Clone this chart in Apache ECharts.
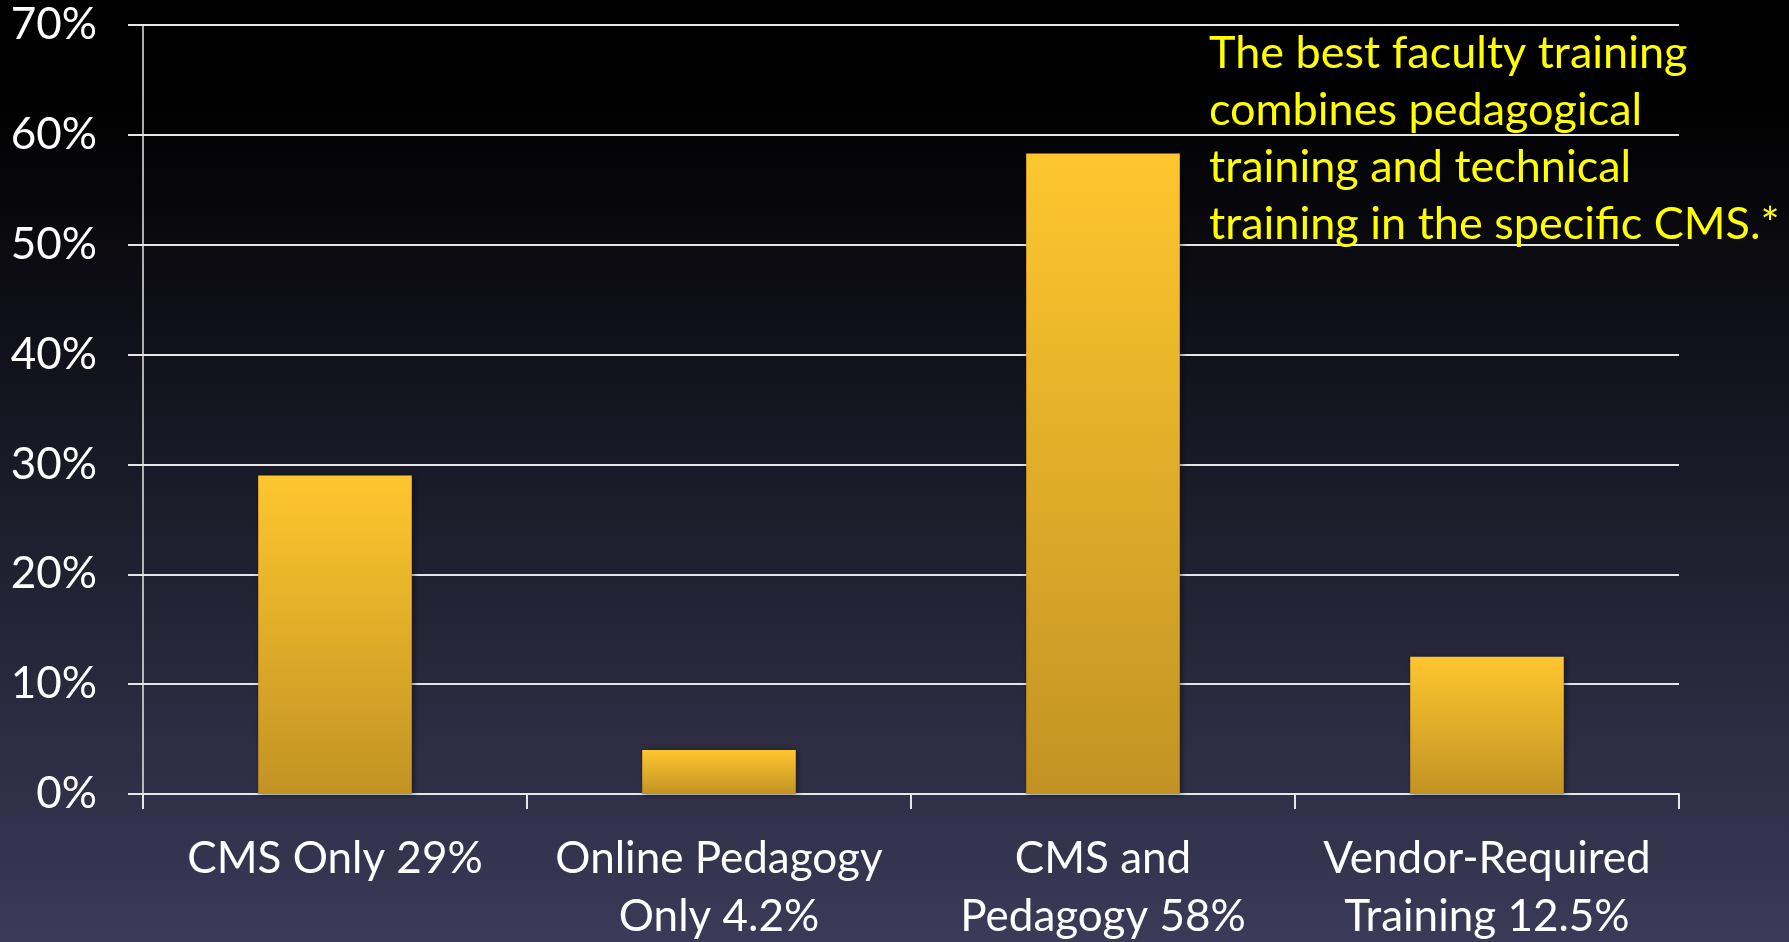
<!DOCTYPE html>
<html>
<head>
<meta charset="utf-8">
<script src="https://cdn.jsdelivr.net/npm/echarts@6/dist/echarts.min.js"></script>
<style>
html,body{margin:0;padding:0;background:#000;}
#chart{width:1789px;height:942px;}
</style>
</head>
<body>
<div id="chart"></div>
<script>
var categories = ['CMS Only 29%', 'Online Pedagogy\nOnly 4.2%', 'CMS and\nPedagogy 58%', 'Vendor-Required\nTraining 12.5%'];
var values = [29, 4, 58.3, 12.5];
var yTicks = [0, 10, 20, 30, 40, 50, 60, 70];
var noteText = 'The best faculty training\ncombines pedagogical\ntraining and technical\ntraining in the specific CMS.*';

var FONT = 'Lato';
var chart = echarts.init(document.getElementById('chart'));
chart.setOption({
  backgroundColor: new echarts.graphic.LinearGradient(0, 0, 0, 1, [
    {offset: 0, color: '#000000'},
    {offset: 0.1, color: '#000000'},
    {offset: 1, color: '#3b3a58'}
  ]),
  animation: false,
  grid: {left: 143, right: 110, top: 25, bottom: 148, containLabel: false, outerBoundsMode: 'none'},
  xAxis: {
    type: 'category',
    data: categories,
    axisLine: {lineStyle: {color: '#e6e6e6', width: 2}},
    axisTick: {show: true, length: 15, lineStyle: {color: '#e6e6e6', width: 2}},
    axisLabel: {color: '#ffffff', fontFamily: FONT, fontSize: 44, lineHeight: 58, margin: 36, interval: 0}
  },
  yAxis: {
    type: 'value',
    min: yTicks[0],
    max: yTicks[yTicks.length - 1],
    interval: 10,
    axisLine: {show: true, lineStyle: {color: '#e6e6e6', width: 1.5}},
    axisTick: {show: true, length: 15, lineStyle: {color: '#e6e6e6', width: 2}},
    splitLine: {show: true, lineStyle: {color: '#e6e6e6', width: 2}},
    axisLabel: {color: '#ffffff', fontFamily: FONT, fontSize: 44, margin: 46, formatter: '{value}%'}
  },
  series: [{
    type: 'bar',
    data: values,
    barWidth: '40%',
    itemStyle: {
      color: new echarts.graphic.LinearGradient(0, 0, 0, 1, [
        {offset: 0, color: '#fec62e'},
        {offset: 1, color: '#c29324'}
      ]),
      shadowColor: 'rgba(0,0,0,0.45)',
      shadowBlur: 6,
      shadowOffsetX: 2,
      shadowOffsetY: 1
    }
  }],
  graphic: [{
    type: 'text',
    left: 1209,
    top: 25,
    z: 100,
    style: {
      text: noteText,
      fill: '#ffff00',
      font: '45px ' + FONT,
      lineHeight: 57
    }
  }]
});
</script>
</body>
</html>
